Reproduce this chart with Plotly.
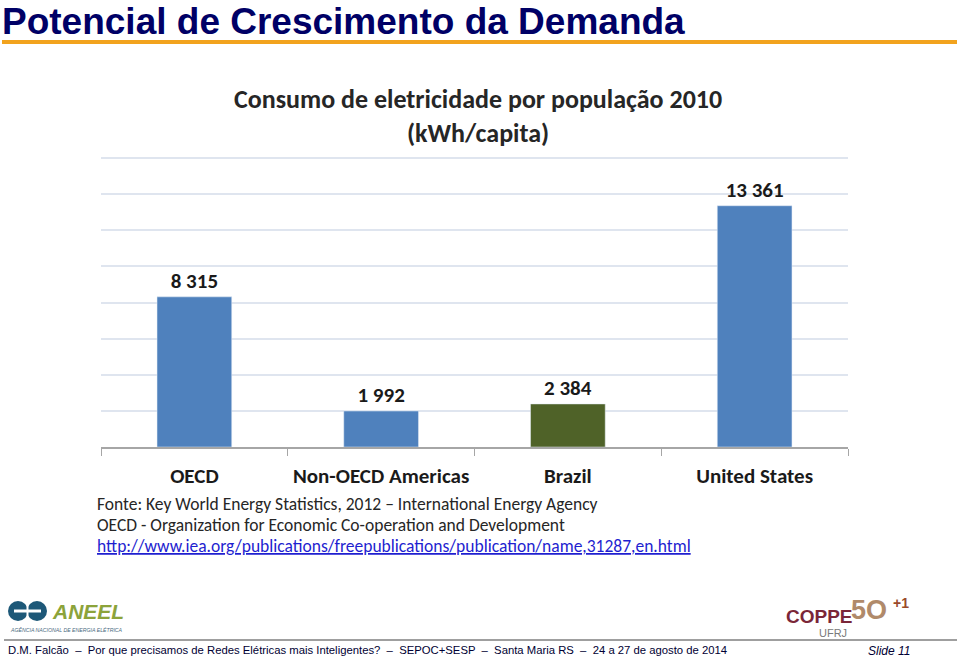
import plotly.graph_objects as go

categories = ["OECD", "Non-OECD Americas", "Brazil", "United States"]
values = [8315, 1992, 2384, 13361]
value_labels = ["8 315", "1 992", "2 384", "13 361"]
bar_colors = ["#4F81BD", "#4F81BD", "#4F6228", "#4F81BD"]

slide_title = "Potencial de Crescimento da Demanda"
chart_title = "Consumo de eletricidade por população 2010<br>(kWh/capita)"
source_lines = [
    "Fonte: Key World Energy Statistics, 2012 \u2013 International Energy Agency",
    "OECD - Organization for Economic Co-operation and Development",
]
source_url = "http://www.iea.org/publications/freepublications/publication/name,31287,en.html"
footer = ("D.M. Falcão  \u2013  Por que precisamos de Redes Elétricas mais Inteligentes?  \u2013  "
          "SEPOC+SESP  \u2013  Santa Maria RS  \u2013  24 a 27 de agosto de 2014")

W, H = 960, 659
L, R, T, B = 101, 848, 157, 447


def px(x):
    return (x - L) / (R - L)


def py(y):
    return (B - y) / (B - T)


CAL = "Carlito, Lato, 'Open Sans', sans-serif"
NARROW = "'Liberation Sans Narrow', 'Arial Narrow', 'Liberation Sans', Arial, sans-serif"

fig = go.Figure(go.Bar(
    x=categories, y=values, marker_color=bar_colors,
    text=value_labels, textposition="outside", cliponaxis=False,
    textfont=dict(family=CAL, size=21, color="#1a1a1a", weight="bold"),
    width=0.4, hoverinfo="skip",
))

fig.update_layout(
    width=W, height=H, margin=dict(l=L, r=W - R, t=T, b=H - B),
    paper_bgcolor="white", plot_bgcolor="white", showlegend=False,
    xaxis=dict(showline=True, linecolor="#A6A6A6", linewidth=1.5,
               ticks="outside", tickson="boundaries", ticklen=7, tickcolor="#A6A6A6",
               tickfont=dict(family=CAL, size=21, color="#1a1a1a", weight="bold"),
               ticklabelstandoff=9),
    yaxis=dict(range=[0, 16060], tickvals=[2000, 4000, 6000, 8000, 10000, 12000, 14000, 16000],
               showticklabels=False, gridcolor="#DFE5EF", gridwidth=1.5, zeroline=False),
)

ann = []
ann.append(dict(x=px(0), y=py(21), xref="paper", yref="paper", xanchor="left", yanchor="middle",
                text="<b>" + slide_title + "</b>", showarrow=False,
                font=dict(family=NARROW, size=37, color="#000066")))
ann.append(dict(x=px(478), y=py(116), xref="paper", yref="paper", xanchor="center", yanchor="middle",
                text="<b>" + chart_title + "</b>", showarrow=False,
                font=dict(family=CAL, size=26, color="#262626")))
for i, line in enumerate(source_lines):
    ann.append(dict(x=px(95), y=py(504 + 21 * i), xref="paper", yref="paper", xanchor="left",
                    yanchor="middle", text=line, showarrow=False,
                    font=dict(family=CAL, size=17.5, color="#262626")))
ann.append(dict(x=px(95), y=py(546), xref="paper", yref="paper", xanchor="left", yanchor="middle",
                text="<u>" + source_url + "</u>", showarrow=False,
                font=dict(family=CAL, size=17.5, color="#1F1FD0")))
ann.append(dict(x=px(6), y=py(650), xref="paper", yref="paper", xanchor="left", yanchor="middle",
                text=footer, showarrow=False,
                font=dict(family=NARROW, size=11.3, color="#000033")))
ann.append(dict(x=px(912), y=py(651), xref="paper", yref="paper", xanchor="right", yanchor="middle",
                text="<i>Slide 11</i>", showarrow=False,
                font=dict(family=NARROW, size=12, color="#000033")))
# ANEEL logo
ann.append(dict(x=px(50), y=py(611), xref="paper", yref="paper", xanchor="left", yanchor="middle",
                text="<b><i>ANEEL</i></b>", showarrow=False,
                font=dict(family=NARROW, size=21, color="#8CA33A")))
ann.append(dict(x=px(8), y=py(629), xref="paper", yref="paper", xanchor="left", yanchor="middle",
                text="<i>AGÊNCIA NACIONAL DE ENERGIA ELÉTRICA</i>", showarrow=False,
                font=dict(family=NARROW, size=5.2, color="#4a6a80")))
# COPPE logo
ann.append(dict(x=px(784), y=py(616), xref="paper", yref="paper", xanchor="left", yanchor="middle",
                text="<b>COPPE</b>", showarrow=False,
                font=dict(family=NARROW, size=19, color="#7A2638")))
ann.append(dict(x=px(849), y=py(610), xref="paper", yref="paper", xanchor="left", yanchor="middle",
                text="<b>5O</b>", showarrow=False,
                font=dict(family=NARROW, size=27, color="#B08A6A")))
ann.append(dict(x=px(891), y=py(603), xref="paper", yref="paper", xanchor="left", yanchor="middle",
                text="<b>+1</b>", showarrow=False,
                font=dict(family=NARROW, size=14, color="#9A4A2A")))
ann.append(dict(x=px(817), y=py(633), xref="paper", yref="paper", xanchor="left", yanchor="middle",
                text="UFRJ", showarrow=False,
                font=dict(family=NARROW, size=11, color="#7A7A7A")))

shapes = [
    dict(type="line", xref="paper", yref="paper", x0=px(2), x1=px(957), y0=py(42), y1=py(42),
         line=dict(color="#F2A31E", width=4)),
    dict(type="line", xref="paper", yref="paper", x0=px(4), x1=px(957), y0=py(640), y1=py(640),
         line=dict(color="#7F7F7F", width=1.5)),
    # ANEEL symbol
    dict(type="circle", xref="paper", yref="paper", x0=px(8), x1=px(28), y0=py(601), y1=py(621),
         fillcolor="#1D5878", line=dict(width=0)),
    dict(type="circle", xref="paper", yref="paper", x0=px(27), x1=px(47), y0=py(601), y1=py(621),
         fillcolor="#1D5878", line=dict(width=0)),
    dict(type="line", xref="paper", yref="paper", x0=px(14), x1=px(41), y0=py(611), y1=py(611),
         line=dict(color="white", width=3)),
    dict(type="line", xref="paper", yref="paper", x0=px(27.5), x1=px(27.5), y0=py(601), y1=py(621),
         line=dict(color="white", width=2)),
]

fig.update_layout(annotations=ann, shapes=shapes)
fig.write_html("out.html", config={"displayModeBar": False},
               post_script="document.body.style.margin='0px';")
